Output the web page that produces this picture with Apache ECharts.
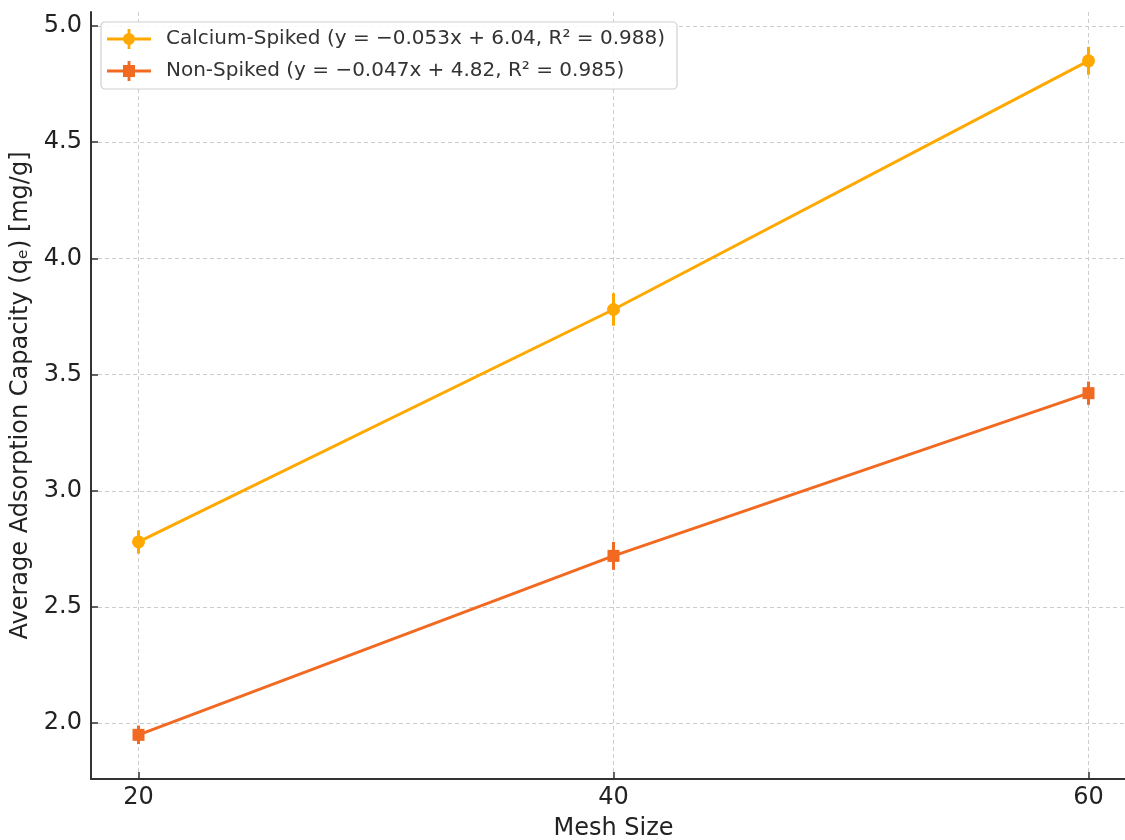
<!DOCTYPE html>
<html>
<head>
<meta charset="utf-8">
<script src="https://cdn.jsdelivr.net/npm/echarts@6/dist/echarts.min.js"></script>
<style>
html,body{margin:0;padding:0;background:#fff;}
#chart{width:1125px;height:840px;}
</style>
</head>
<body>
<div id="chart"></div>
<script>
const meshSizes = [20, 40, 60];
const calciumValues = [2.78, 3.78, 4.85];
const calciumErrors = [0.05, 0.07, 0.06];
const nonSpikedValues = [1.95, 2.72, 3.42];
const nonSpikedErrors = [0.04, 0.06, 0.05];
const xTicks = [20, 40, 60];
const yTicks = [2.0, 2.5, 3.0, 3.5, 4.0, 4.5, 5.0];
const calciumName = 'Calcium-Spiked (y = \u22120.053x + 6.04, R\u00b2 = 0.988)';
const nonSpikedName = 'Non-Spiked (y = \u22120.047x + 4.82, R\u00b2 = 0.985)';

const calciumColor = '#FFA800';
const nonSpikedColor = '#F26A22';
const font = 'DejaVu Sans';

const crossBase = 'M0 8.6 L44 8.6 L44 11.4 L0 11.4 Z M20.6 0 L23.4 0 L23.4 20 L20.6 20 Z ';
const circleIcon = 'path://' + crossBase + 'M16 10 A6 6 0 1 1 28 10 A6 6 0 1 1 16 10 Z';
const squareIcon = 'path://' + crossBase + 'M16 4 L28 4 L28 16 L16 16 Z';

function errData(xs, ys, es) {
  return xs.map((x, i) => [x, ys[i] - es[i], ys[i] + es[i]]);
}
function errSeries(name, data, color) {
  return {
    type: 'custom',
    name: name,
    data: data,
    z: 3,
    silent: true,
    renderItem: function (params, api) {
      const x = api.value(0);
      const p1 = api.coord([x, api.value(1)]);
      const p2 = api.coord([x, api.value(2)]);
      return {
        type: 'line',
        shape: {x1: p1[0], y1: p1[1], x2: p2[0], y2: p2[1]},
        style: {stroke: color, lineWidth: 3}
      };
    },
    encode: {x: 0, y: [1, 2]}
  };
}

const chart = echarts.init(document.getElementById('chart'), null, {renderer: 'canvas'});
const gridStyle = {show: true, lineStyle: {color: '#cccccc', width: 1, type: [4, 3]}};
chart.setOption({
  animation: false,
  backgroundColor: '#ffffff',
  textStyle: {fontFamily: font},
  grid: {left: 91, top: 12, width: 1045, height: 767, containLabel: false, outerBoundsMode: 'none'},
  legend: {
    left: 101, top: 22,
    orient: 'vertical',
    data: [{name: calciumName, icon: circleIcon}, {name: nonSpikedName, icon: squareIcon}],
    itemWidth: 44, itemHeight: 20, itemGap: 12,
    padding: [7, 12, 8, 6],
    borderColor: '#d0d0d0', borderWidth: 1.2, borderRadius: 4,
    backgroundColor: 'rgba(255,255,255,0.85)',
    textStyle: {fontFamily: font, fontSize: 20, lineHeight: 20, color: '#333333', padding: [0, 0, 0, 10]}
  },
  xAxis: {
    type: 'value', min: 18, max: 62,
    name: 'Mesh Size', nameLocation: 'middle', nameGap: 38,
    nameTextStyle: {fontFamily: font, fontSize: 24, color: '#222'},
    axisLine: {show: true, onZero: false, lineStyle: {color: '#333', width: 2}},
    axisTick: {show: true, inside: true, length: 7, customValues: xTicks, lineStyle: {color: '#333', width: 1.5}},
    axisLabel: {customValues: xTicks, fontFamily: font, fontSize: 24, color: '#222', margin: 7},
    splitLine: gridStyle
  },
  yAxis: {
    type: 'value', min: 1.76, max: 5.06,
    name: 'Average Adsorption Capacity (q\u2091) [mg/g]', nameLocation: 'middle', nameGap: 54,
    nameTextStyle: {fontFamily: font, fontSize: 24, color: '#222'},
    axisLine: {show: true, onZero: false, lineStyle: {color: '#333', width: 2}},
    axisTick: {show: true, inside: true, length: 7, customValues: yTicks, lineStyle: {color: '#333', width: 1.5}},
    axisLabel: {customValues: yTicks, fontFamily: font, fontSize: 24, color: '#222', margin: 9,
      formatter: v => v.toFixed(1)},
    splitLine: gridStyle
  },
  series: [
    {
      name: calciumName, type: 'line',
      data: meshSizes.map((x, i) => [x, calciumValues[i]]),
      symbol: 'circle', symbolSize: 13,
      lineStyle: {color: calciumColor, width: 3},
      itemStyle: {color: calciumColor},
      z: 4
    },
    errSeries(calciumName, errData(meshSizes, calciumValues, calciumErrors), calciumColor),
    {
      name: nonSpikedName, type: 'line',
      data: meshSizes.map((x, i) => [x, nonSpikedValues[i]]),
      symbol: 'rect', symbolSize: 12,
      lineStyle: {color: nonSpikedColor, width: 3},
      itemStyle: {color: nonSpikedColor},
      z: 4
    },
    errSeries(nonSpikedName, errData(meshSizes, nonSpikedValues, nonSpikedErrors), nonSpikedColor)
  ]
});
</script>
</body>
</html>
